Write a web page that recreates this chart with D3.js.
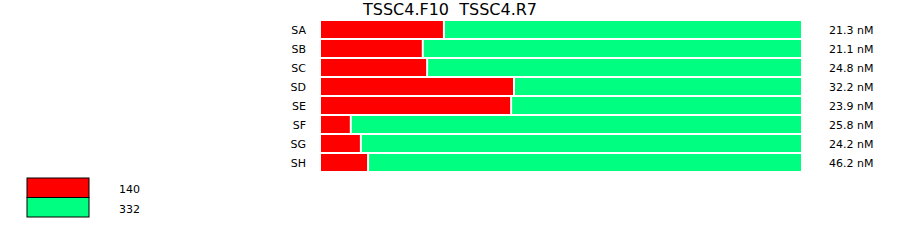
<!DOCTYPE html>
<html>
<head>
<meta charset="utf-8">
<script src="https://cdn.jsdelivr.net/npm/d3@7"></script>
<style>
    body{margin:0;background:#fff;}
    svg text{font-family:"DejaVu Sans",Verdana,sans-serif;fill:#000;}
</style>
</head>
<body>
<div id="chart"></div>
<script>
// ******************* data section ******************
var titles=["TSSC4.F10","TSSC4.R7"];
var categories=["SA","SB","SC","SD","SE","SF","SG","SH"];
// share of each row (percent)
var redValues=[25.4,21.0,21.9,40.0,39.4,6.0,8.1,9.6];
var greenValues=[74.6,79.0,78.1,60.0,60.6,94.0,91.9,90.4];
var rowLabels=["21.3 nM","21.1 nM","24.8 nM","32.2 nM","23.9 nM","25.8 nM","24.2 nM","46.2 nM"];
var legendLabels=["140","332"];
var colors=["#ff0000","#00ff80"];
// ****************************************************

var width=900, height=242;
var svg=d3.select("#chart").append("svg")
    .attr("width",width)
    .attr("height",height);

var x=d3.scaleLinear().domain([0,100]).range([321,801]);
var y=d3.scaleBand().domain(categories).range([20,172]).paddingInner(2/19).paddingOuter(1/19);

// title
svg.append("text")
    .attr("x",450)
    .attr("y",15)
    .attr("text-anchor","middle")
    .style("font-size","16px")
    .style("white-space","pre")
    .text(titles.join("  "));

var rows=svg.selectAll("g.row")
    .data(categories)
    .enter().append("g")
    .attr("class","row");

rows.append("rect")//red part
    .attr("x",x(0))
    .attr("y",function(d){return y(d);})
    .attr("width",function(d,i){return x(redValues[i])-x(0);})
    .attr("height",y.bandwidth())
    .attr("fill",colors[0]);

rows.append("rect")//green part, 2px white gap
    .attr("x",function(d,i){return x(redValues[i])+2;})
    .attr("y",function(d){return y(d);})
    .attr("width",function(d,i){return x(redValues[i]+greenValues[i])-x(redValues[i])-2;})
    .attr("height",y.bandwidth())
    .attr("fill",colors[1]);

rows.append("text")
    .attr("x",306)
    .attr("y",function(d){return y(d)+y.bandwidth()/2+4;})
    .attr("text-anchor","end")
    .style("font-size","11px")
    .text(function(d){return d;});

rows.append("text")
    .attr("x",829)
    .attr("y",function(d){return y(d)+y.bandwidth()/2+4;})
    .style("font-size","11px")
    .text(function(d,i){return rowLabels[i];});

// legend
var legend=svg.selectAll("g.legend")
    .data(legendLabels)
    .enter().append("g")
    .attr("class","legend")
    .attr("transform",function(d,i){return "translate(27,"+(178+i*19.5)+")";});

legend.append("rect")
    .attr("width",62)
    .attr("height",19.5)
    .attr("fill",function(d,i){return colors[i];})
    .attr("stroke","#000")
    .attr("stroke-width",1);

legend.append("text")
    .attr("x",92)
    .attr("y",15)
    .style("font-size","11px")
    .text(function(d){return d;});
</script>
</body>
</html>
